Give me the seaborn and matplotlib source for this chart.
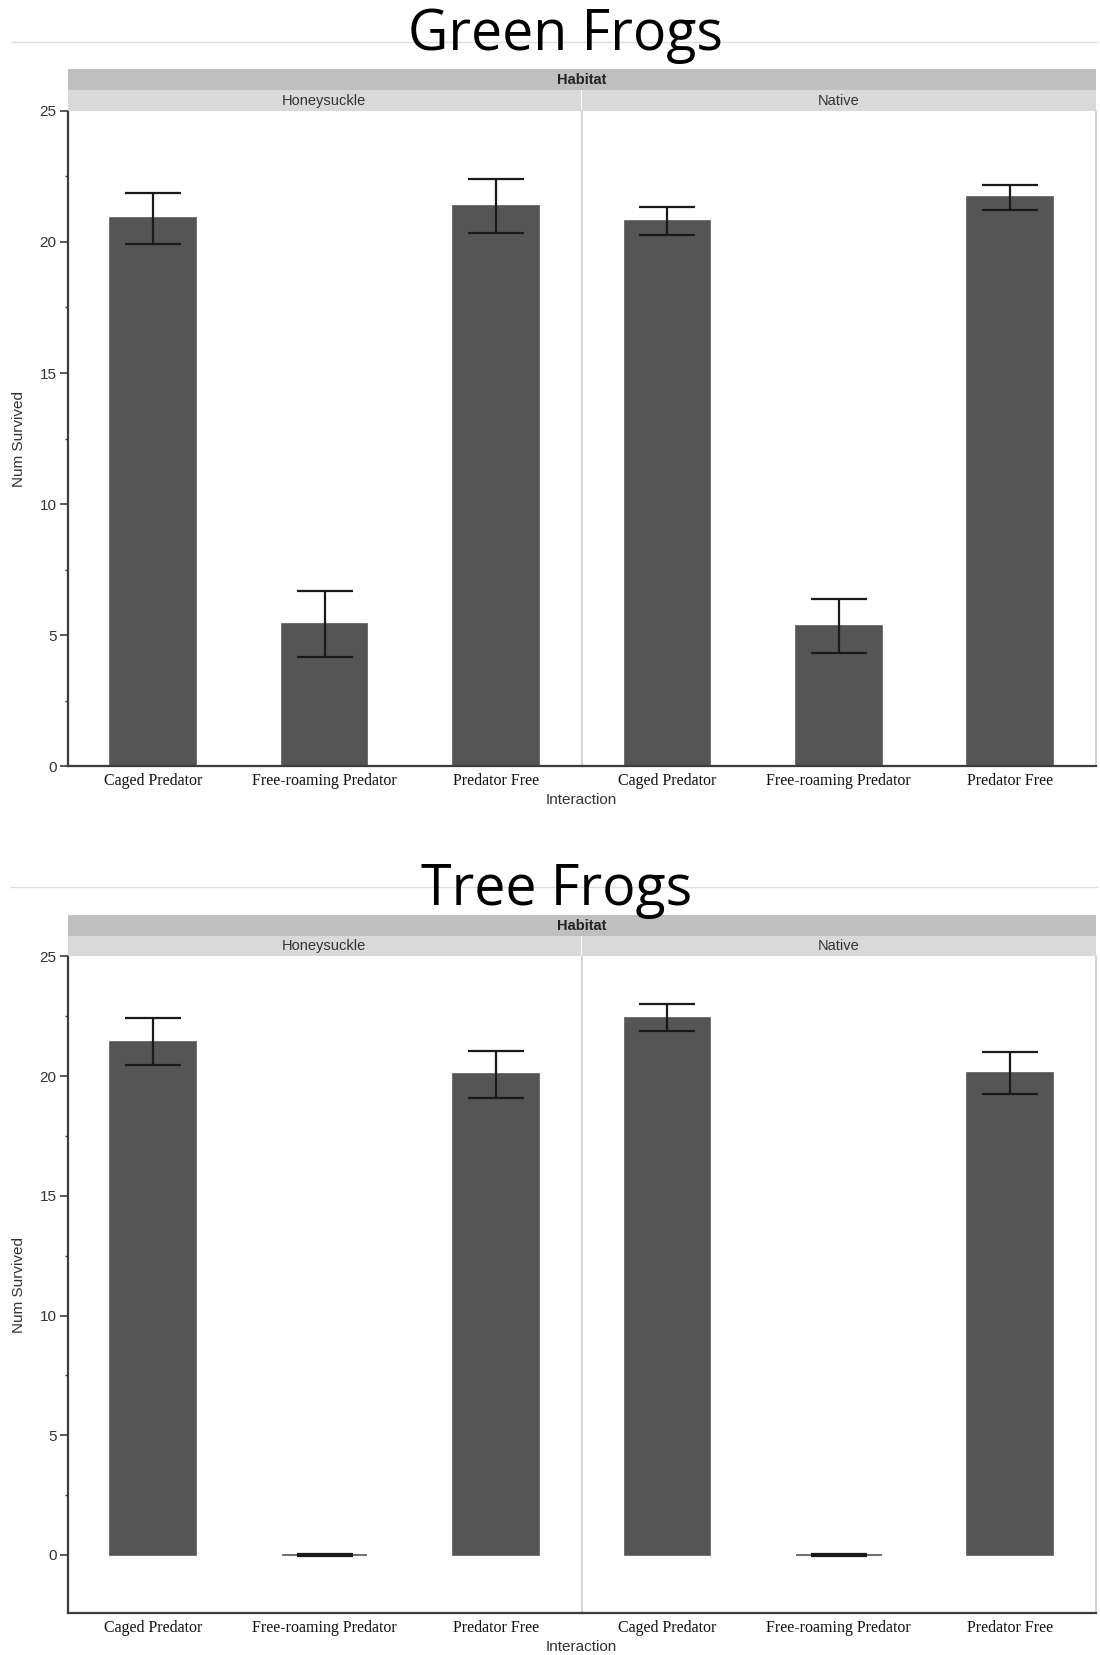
import numpy as np
import pandas as pd
import matplotlib
matplotlib.use("Agg")
import matplotlib.pyplot as plt
from matplotlib.patches import Rectangle
from matplotlib.lines import Line2D
from matplotlib.ticker import MultipleLocator
import seaborn as sns

# ---- data -------------------------------------------------------------
interactions = ["Caged Predator", "Free-roaming Predator", "Predator Free"]
habitats = ["Honeysuckle", "Native"]
species = ["Green Frogs", "Tree Frogs"]

green_honeysuckle_mean = [20.9, 5.43, 21.38]
green_honeysuckle_se = [0.97, 1.24, 1.03]
green_native_mean = [20.8, 5.35, 21.7]
green_native_se = [0.52, 1.02, 0.47]

tree_honeysuckle_mean = [21.43, 0.0, 20.08]
tree_honeysuckle_se = [0.98, 0.05, 0.99]
tree_native_mean = [22.45, 0.0, 20.14]
tree_native_se = [0.55, 0.05, 0.88]

y_ticks = [0, 5, 10, 15, 20, 25]

rows = []
for sp, h_mean, h_se, n_mean, n_se in [
    ("Green Frogs", green_honeysuckle_mean, green_honeysuckle_se, green_native_mean, green_native_se),
    ("Tree Frogs", tree_honeysuckle_mean, tree_honeysuckle_se, tree_native_mean, tree_native_se),
]:
    for hab, means, ses in [("Honeysuckle", h_mean, h_se), ("Native", n_mean, n_se)]:
        for inter, m, s in zip(interactions, means, ses):
            rows.append(dict(Species=sp, Habitat=hab, Interaction=inter, Survived=m, SE=s))
df = pd.DataFrame(rows)

# ---- style ------------------------------------------------------------
sns.set_theme(style="white")
plt.rcParams["font.family"] = ["Liberation Sans", "DejaVu Sans"]

BAR = "#555555"
ERR = "#1a1a1a"
AXIS = "#3c3c3c"
LIGHT = "#cccccc"
STRIP_OUTER = "#bfbfbf"
STRIP_INNER = "#d9d9d9"
TEXT = "#333333"

W, H = 1100, 1655
fig = plt.figure(figsize=(W / 100, H / 100), dpi=100)


def fx(x):
    return x / W


def fy(y):
    return 1 - y / H


LEFT, MID, RIGHT = 67.6, 581.7, 1095.8

blocks = [
    dict(species="Green Frogs", title_x=565.5, title_base=50, rule=42,
         strip_top=69.5, strip_mid=90.3, top=110.8, bottom=766.4,
         ylim=(0, 25), xlab_y=800),
    dict(species="Tree Frogs", title_x=557, title_base=905, rule=887,
         strip_top=915.3, strip_mid=936.4, top=956.5, bottom=1613,
         ylim=(-2.43, 25), xlab_y=1647),
]

for b in blocks:
    # title and rule
    fig.add_artist(Line2D([fx(10.6), fx(1098)], [fy(b["rule"]), fy(b["rule"])],
                          transform=fig.transFigure, color="#dedede", lw=1, zorder=0))
    fig.text(fx(b["title_x"]), fy(b["title_base"]), b["species"], ha="center",
             va="baseline", fontsize=40, family=["Open Sans", "DejaVu Sans"], color="black")

    # strips
    fig.add_artist(Rectangle((fx(LEFT), fy(b["strip_mid"])), fx(RIGHT) - fx(LEFT),
                             fy(b["strip_top"]) - fy(b["strip_mid"]),
                             transform=fig.transFigure, facecolor=STRIP_OUTER, edgecolor="none"))
    fig.text(fx((LEFT + RIGHT) / 2), fy((b["strip_top"] + b["strip_mid"]) / 2), "Habitat",
             ha="center", va="center", fontsize=10.5, fontweight="bold", color="#222222")
    for x0, x1, hab in [(LEFT, MID - 0.7, "Honeysuckle"), (MID + 0.7, RIGHT, "Native")]:
        fig.add_artist(Rectangle((fx(x0), fy(b["top"])), fx(x1) - fx(x0),
                                 fy(b["strip_mid"]) - fy(b["top"]),
                                 transform=fig.transFigure, facecolor=STRIP_INNER, edgecolor="none"))
        fig.text(fx((x0 + x1) / 2), fy((b["strip_mid"] + b["top"]) / 2), hab,
                 ha="center", va="center", fontsize=10.5, color=TEXT)

    # panels
    for i, (x0, x1, hab) in enumerate([(LEFT, MID, "Honeysuckle"), (MID, RIGHT, "Native")]):
        ax = fig.add_axes([fx(x0), fy(b["bottom"]), fx(x1) - fx(x0), fy(b["top"]) - fy(b["bottom"])])
        ax.patch.set_visible(False)
        sub = df[(df.Species == b["species"]) & (df.Habitat == hab)]
        sns.barplot(data=sub, x="Interaction", y="Survived", order=interactions,
                    color=BAR, saturation=1, errorbar=None, width=0.5,
                    edgecolor=BAR, linewidth=1.2, ax=ax)
        ax.errorbar(x=np.arange(len(interactions)), y=sub["Survived"].values,
                    yerr=sub["SE"].values, fmt="none", ecolor=ERR, elinewidth=1.6,
                    capsize=20.5, capthick=1.6, zorder=5)
        ax.set_xlim(-0.5, 2.5)
        ax.set_ylim(*b["ylim"])
        ax.set_xlabel("")
        ax.set_ylabel("")
        ax.tick_params(axis="x", length=0, pad=5, labelsize=11.5, labelcolor="#111111")
        for lab in ax.get_xticklabels():
            lab.set_fontfamily(["Liberation Serif", "DejaVu Serif"])
        ax.spines["top"].set_visible(False)
        ax.spines["bottom"].set_color(AXIS)
        ax.spines["bottom"].set_linewidth(1.6)
        ax.spines["right"].set_color(LIGHT)
        ax.spines["right"].set_linewidth(1.2)
        if i == 0:
            ax.set_yticks(y_ticks)
            ax.yaxis.set_minor_locator(MultipleLocator(2.5))
            ax.spines["left"].set_color(AXIS)
            ax.spines["left"].set_linewidth(1.6)
            ax.tick_params(axis="y", which="major", direction="out", length=6, width=1.2,
                           color=AXIS, left=True, labelsize=11, labelcolor=TEXT, pad=2)
            ax.tick_params(axis="y", which="minor", direction="out", length=2.5, width=1.0,
                           color=AXIS, left=True)
        else:
            ax.spines["left"].set_visible(False)
            ax.set_yticks([])
        ax.grid(False)

    # axis titles
    fig.text(fx((LEFT + RIGHT) / 2), fy(b["xlab_y"]), "Interaction", ha="center", va="center",
             fontsize=11, color=TEXT)
    fig.text(fx(19), fy((b["top"] + b["bottom"]) / 2), "Num Survived", ha="center", va="center",
             rotation=90, fontsize=11, color=TEXT)

fig.savefig("out.png", dpi=100, facecolor="white")
